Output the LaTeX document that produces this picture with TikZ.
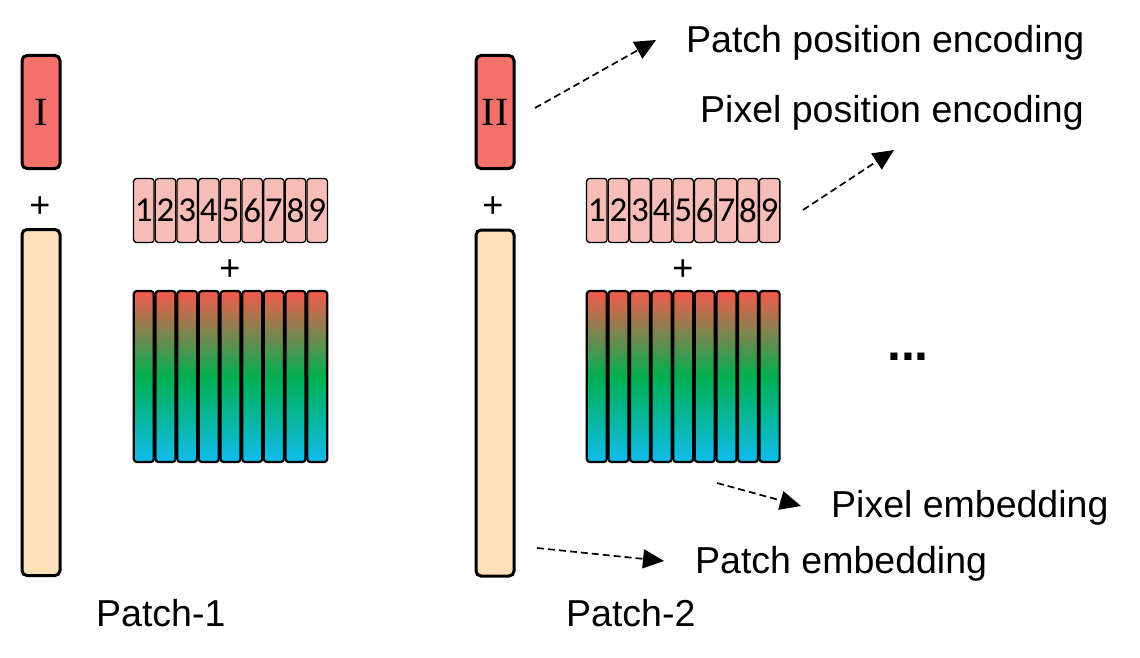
\documentclass[tikz,border=0pt]{standalone}
\usepackage{fontspec}
\setmainfont{Liberation Sans}
\newfontfamily\numfont{Carlito}
\newfontfamily\romfont{Liberation Serif}
\usetikzlibrary{arrows.meta}
\definecolor{barred}{HTML}{F4706A}
\definecolor{beige}{HTML}{FDE0B8}
\definecolor{pinkcell}{HTML}{F9BDB8}
\definecolor{gtop}{HTML}{F65A4C}
\definecolor{gmid}{HTML}{00B050}
\definecolor{gbot}{HTML}{10BCEE}
\begin{document}
\begin{tikzpicture}[x=1pt,y=-1pt,
 bar/.style={draw=black, line width=3pt, rounded corners=5pt, minimum width=38pt, inner sep=0pt},
 numcell/.style={draw=black, line width=1.3pt, fill=pinkcell, rounded corners=3pt, minimum width=20.5pt, minimum height=64pt, inner sep=0pt, font=\numfont\fontsize{35}{35}\selectfont},
 gradcell/.style={draw=black, line width=2.2pt, rounded corners=3pt, minimum width=20pt, minimum height=171pt, inner sep=0pt, top color=gtop, bottom color=gbot, middle color=gmid},
 lbl/.style={font=\fontsize{37.5}{37.5}\selectfont, inner sep=0pt, anchor=base west},
 plus/.style={font=\fontsize{36}{36}\selectfont, inner sep=0pt},
 roman/.style={font=\romfont\fontsize{40}{40}\selectfont},
 dasharrow/.style={draw, line width=1.7pt, dash pattern=on 7pt off 4pt, -{Triangle[length=21pt,width=19pt]}}
]
\useasboundingbox[fill=white] (0,0) rectangle (1140,658);

% Patch 1
\node[bar, fill=barred, minimum height=113pt, roman] (r1) at (41,112) {I};
\node[plus] (p1a) at (40,207) {+};
\node[bar, fill=beige, minimum height=346pt] (b1) at (41,402.5) {};
\foreach \i in {1,...,9} {
  \node[numcell] (n1\i) at ({133+(\i-0.5)*21.67},210.5) {\i};
  \node[gradcell] (g1\i) at ({133+(\i-0.5)*21.67},376.5) {};
}
\node[plus] (p1b) at (230,270) {+};
\node[lbl] (t1) at (96,626) {Patch-1};

% Patch 2
\node[bar, fill=barred, minimum height=113pt, roman] (r2) at (495,112) {II};
\node[plus] (p2a) at (493,207) {+};
\node[bar, fill=beige, minimum height=346pt] (b2) at (495,403) {};
\foreach \i in {1,...,9} {
  \node[numcell] (n2\i) at ({586+(\i-0.5)*21.6},210.5) {\i};
  \node[gradcell] (g2\i) at ({586+(\i-0.5)*21.6},376.5) {};
}
\node[plus] (p2b) at (683,270) {+};
\node[lbl] (t2) at (566,626) {Patch-2};

\node[font=\bfseries\fontsize{50}{50}\selectfont, inner sep=0pt, anchor=base] (dots) at (908,360) {...};

% labels
\node[lbl] (lppe) at (686,53) {Patch position encoding};
\node[lbl] (lpxe) at (700,123) {Pixel position encoding};
\node[lbl] (lpxm) at (831,517) {Pixel embedding};
\node[lbl] (lpam) at (695,573) {Patch embedding};

% arrows
\coordinate (s1) at (535,108); \coordinate (e1) at (656,40);
\coordinate (s2) at (803,210); \coordinate (e2) at (894,150);
\coordinate (s3) at (717,483); \coordinate (e3) at (801,506);
\coordinate (s4) at (537,548); \coordinate (e4) at (664,561);
\draw[dasharrow] (s1) -- (e1);
\draw[dasharrow] (s2) -- (e2);
\draw[dasharrow] (s3) -- (e3);
\draw[dasharrow] (s4) -- (e4);
\end{tikzpicture}
\end{document}
